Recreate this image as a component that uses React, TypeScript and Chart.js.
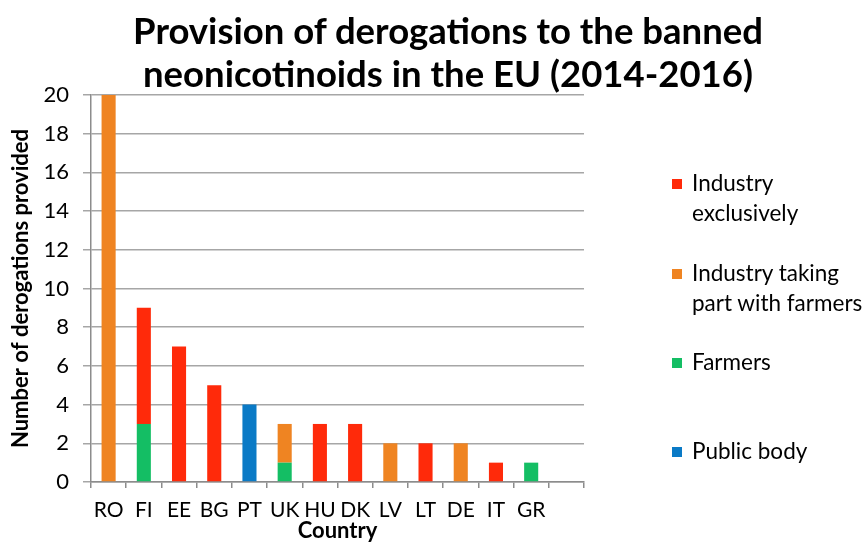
import React, { useEffect, useRef } from "react";
import { Chart, registerables } from "chart.js";

Chart.register(...registerables);

const categories = ["RO", "FI", "EE", "BG", "PT", "UK", "HU", "DK", "LV", "LT", "DE", "IT", "GR", ""];
const publicBody = [0, 0, 0, 0, 4, 0, 0, 0, 0, 0, 0, 0, 0, 0];
const farmers = [0, 3, 0, 0, 0, 1, 0, 0, 0, 0, 0, 0, 1, 0];
const industryWithFarmers = [20, 0, 0, 0, 0, 2, 0, 0, 2, 0, 2, 0, 0, 0];
const industryExclusively = [0, 6, 7, 5, 0, 0, 3, 3, 0, 2, 0, 1, 0, 0];
const yTicks = [0, 2, 4, 6, 8, 10, 12, 14, 16, 18, 20];
const titleLines = ["Provision of derogations to the banned", "neonicotinoids in the EU (2014-2016)"];

const COLORS = {
  red: "#ff2a0a",
  orange: "#ef8422",
  green: "#14be64",
  blue: "#0a7ac6",
};

const legendItems = [
  { lines: ["Industry", "exclusively"], color: COLORS.red, top: 168 },
  { lines: ["Industry taking", "part with farmers"], color: COLORS.orange, top: 258 },
  { lines: ["Farmers"], color: COLORS.green, top: 347 },
  { lines: ["Public body"], color: COLORS.blue, top: 436 },
];

const FONT = "Lato, 'Open Sans', sans-serif";

export default function App() {
  const canvasRef = useRef<HTMLCanvasElement | null>(null);

  useEffect(() => {
    document.body.style.margin = "0";
    const canvas = canvasRef.current;
    if (!canvas) return;
    const chart = new Chart(canvas, {
      type: "bar",
      data: {
        labels: categories,
        datasets: [
          { label: "Public body", data: publicBody, backgroundColor: COLORS.blue },
          { label: "Farmers", data: farmers, backgroundColor: COLORS.green },
          { label: "Industry taking part with farmers", data: industryWithFarmers, backgroundColor: COLORS.orange },
          { label: "Industry exclusively", data: industryExclusively, backgroundColor: COLORS.red },
        ],
      },
      options: {
        animation: false,
        responsive: false,
        maintainAspectRatio: false,
        layout: { padding: { left: 0, right: 284, top: 95, bottom: 0 } },
        datasets: { bar: { categoryPercentage: 1, barPercentage: 0.4, borderWidth: 0 } },
        plugins: {
          legend: { display: false },
          tooltip: { enabled: false },
          title: { display: false },
        },
        scales: {
          x: {
            stacked: true,
            offset: true,
            afterFit: (scale: any) => {
              scale.height = 62;
            },
            grid: {
              offset: true,
              drawOnChartArea: false,
              drawTicks: true,
              tickLength: 6,
              color: "#8c8c8c",
              lineWidth: 1.5,
            },
            border: { display: true, color: "#8c8c8c", width: 1.5 },
            ticks: {
              color: "#000",
              font: { family: FONT, size: 21 },
              padding: 10,
              maxRotation: 0,
              autoSkip: false,
            },
            title: {
              display: true,
              text: "Country",
              color: "#000",
              font: { family: FONT, size: 22, weight: "bold", lineHeight: 1 },
              padding: { top: 0, bottom: 2 },
            },
          },
          y: {
            stacked: true,
            min: 0,
            max: 20,
            afterFit: (scale: any) => {
              scale.width = 91;
            },
            afterBuildTicks: (scale: any) => {
              scale.ticks = yTicks.map((v) => ({ value: v }));
            },
            grid: {
              color: "#a6a6a6",
              lineWidth: 1.5,
              tickLength: 8,
            },
            border: { display: true, color: "#8c8c8c", width: 1.5 },
            ticks: {
              color: "#000",
              font: { family: FONT, size: 22 },
              padding: 14,
            },
            title: {
              display: true,
              text: "Number of derogations provided",
              color: "#000",
              font: { family: FONT, size: 22, weight: "bold", lineHeight: 1 },
              padding: { top: 10, bottom: 0 },
            },
          },
        },
      },
    });
    return () => chart.destroy();
  }, []);

  return (
    <div style={{ position: "relative", width: 868, height: 544, background: "#fff" }}>
      <canvas ref={canvasRef} width={868} height={544} style={{ display: "block" }} />
      <div
        style={{
          position: "absolute",
          left: 0,
          top: 9,
          width: 896,
          textAlign: "center",
          fontFamily: FONT,
          fontWeight: "bold",
          fontSize: 36.5,
          lineHeight: "43px",
          color: "#000",
          whiteSpace: "nowrap",
        }}
      >
        {titleLines.map((l) => (
          <div key={l}>{l}</div>
        ))}
      </div>
      {legendItems.map((item) => (
        <div
          key={item.lines[0] + item.color}
          style={{
            position: "absolute",
            left: 672,
            top: item.top,
            fontFamily: FONT,
            fontSize: 22.5,
            lineHeight: "30px",
            color: "#000",
            whiteSpace: "nowrap",
          }}
        >
          <span
            style={{
              position: "absolute",
              left: 0,
              top: 11,
              width: 10,
              height: 10,
              background: item.color,
            }}
          />
          <div style={{ marginLeft: 20 }}>
            {item.lines.map((l) => (
              <div key={l}>{l}</div>
            ))}
          </div>
        </div>
      ))}
    </div>
  );
}
